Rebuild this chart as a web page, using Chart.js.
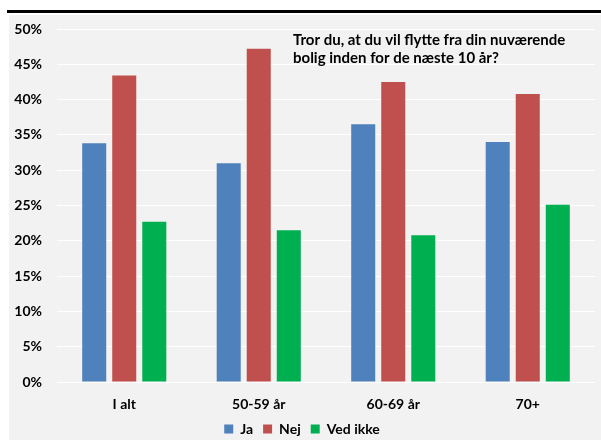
<!DOCTYPE html>
<html>
<head>
<meta charset="utf-8">
<script src="https://cdn.jsdelivr.net/npm/chart.js@4"></script>
<style>
  html, body { margin: 0; padding: 0; background: #fff; }
  body { width: 601px; height: 440px; position: relative; overflow: hidden; }
  #topline { position: absolute; left: 7px; top: 10px; width: 594px; height: 3px; background: #000; }
  #box { position: absolute; left: 9px; top: 15px; width: 592px; height: 425px; background: #f2f2f2; }
</style>
</head>
<body>
<div id="topline"></div>
<div id="box"><canvas id="chart" width="592" height="425"></canvas></div>
<script>
const categories = ['I alt', '50-59 år', '60-69 år', '70+'];
const jaValues = [33.8, 31.0, 36.5, 34.0];
const nejValues = [43.4, 47.2, 42.5, 40.8];
const vedIkkeValues = [22.7, 21.5, 20.8, 25.1];
const titleLines = ['Tror du, at du vil flytte fra din nuværende', 'bolig inden for de næste 10 år?'];

const font = 'Lato, "Open Sans", sans-serif';

// Question text drawn inside the plot area
const questionText = {
  id: 'questionText',
  afterDraw(chart) {
    const ctx = chart.ctx;
    const area = chart.chartArea;
    ctx.save();
    ctx.font = 'bold 15px ' + font;
    ctx.fillStyle = '#000';
    ctx.textAlign = 'left';
    ctx.textBaseline = 'middle';
    titleLines.forEach((line, i) => {
      ctx.fillText(line, area.left + 236, area.top + 11 + i * 18);
    });
    ctx.restore();
  }
};

const barOpts = { categoryPercentage: 0.67, barPercentage: 0.8 };

new Chart(document.getElementById('chart').getContext('2d'), {
  type: 'bar',
  data: {
    labels: categories,
    datasets: [
      { label: 'Ja', data: jaValues, backgroundColor: '#4f81bd', ...barOpts },
      { label: 'Nej', data: nejValues, backgroundColor: '#c0504d', ...barOpts },
      { label: 'Ved ikke', data: vedIkkeValues, backgroundColor: '#00b050', ...barOpts },
    ],
  },
  options: {
    responsive: false,
    animation: false,
    layout: { padding: { left: 0, right: 6, top: 14, bottom: -6 } },
    plugins: {
      legend: {
        position: 'bottom',
        labels: {
          boxWidth: 9,
          boxHeight: 9,
          padding: 10,
          color: '#000',
          font: { family: font, size: 14, weight: 'bold' },
        },
      },
      tooltip: { enabled: false },
    },
    scales: {
      x: {
        afterFit(scale) { scale.height = 30; },
        grid: { display: false, drawTicks: false },
        border: { display: false },
        ticks: { color: '#000', padding: 15, font: { family: font, size: 14, weight: 'bold', lineHeight: 1 } },
      },
      y: {
        min: 0,
        max: 50,
        afterFit(scale) { scale.width = 48; },
        grid: { color: '#ffffff', lineWidth: 1, drawTicks: true, tickLength: 15, tickColor: 'rgba(0,0,0,0)' },
        border: { display: false },
        ticks: {
          stepSize: 5,
          padding: 0,
          color: '#000',
          font: { family: font, size: 14, weight: 'bold' },
          callback: (v) => v + '%',
        },
      },
    },
  },
  plugins: [questionText],
});
</script>
</body>
</html>
